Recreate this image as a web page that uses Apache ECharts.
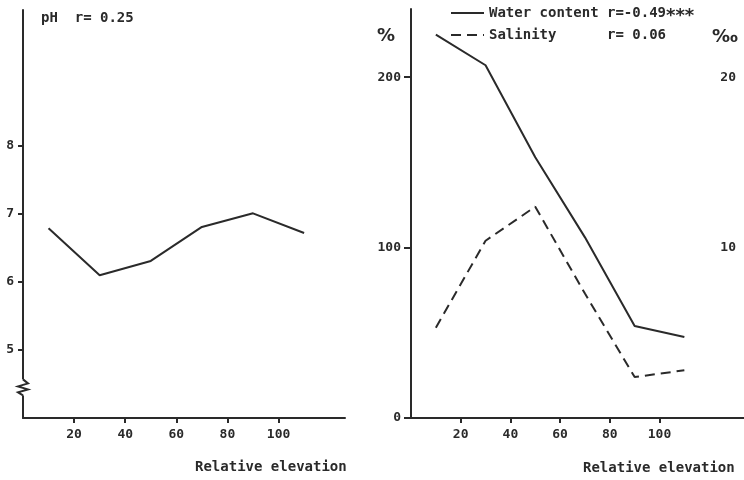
<!DOCTYPE html>
<html>
<head>
<meta charset="utf-8">
<script src="https://cdn.jsdelivr.net/npm/echarts@6/dist/echarts.min.js"></script>
<style>
html,body{margin:0;padding:0;background:#fff;}
#c{width:744px;height:480px;}
</style>
</head>
<body>
<div id="c"></div>
<script>
// ---- data ----
const elevation = [10, 30, 50, 70, 90, 110];
const pH = [6.79, 6.10, 6.31, 6.81, 7.01, 6.72];
const waterContent = [225, 207, 153, 106, 54, 47.5];   // %
const salinity = [5.3, 10.4, 12.4, 7.3, 2.4, 2.8];     // per mille
const xTicks = [20, 40, 60, 80, 100];
const pHTicks = [5, 6, 7, 8];
const pctTicks = [0, 100, 200];
const permilleTicks = [10, 20];

const INK = '#2a2a2a';
const FONT = '"DejaVu Sans Mono", monospace';
const SANS = '"DejaVu Sans", sans-serif';

const pair = (xs, ys) => xs.map((x, i) => [x, ys[i]]);

const chart = echarts.init(document.getElementById('c'), null, {renderer: 'canvas'});

const axisCommon = {
  axisLine: {show: true, lineStyle: {color: INK, width: 2}},
  axisTick: {show: true, length: 5, lineStyle: {color: INK, width: 2}},
  splitLine: {show: false},
  axisLabel: {color: INK, fontFamily: FONT, fontWeight: 'bold', fontSize: 13}
};

function xAxis(gridIndex, max) {
  return {
    type: 'value', gridIndex, min: 0, max,
    axisLine: axisCommon.axisLine,
    axisTick: Object.assign({}, axisCommon.axisTick, {customValues: xTicks}),
    axisLabel: Object.assign({}, axisCommon.axisLabel, {customValues: xTicks, margin: 10}),
    splitLine: {show: false}
  };
}

chart.setOption({
  animation: false,
  backgroundColor: '#fff',
  grid: [
    {left: 23, top: 10, width: 322, height: 408},
    {left: 411, top: 9, width: 341, height: 409}
  ],
  xAxis: [xAxis(0, 126), xAxis(1, 134)],
  yAxis: [
    {
      type: 'value', gridIndex: 0, min: 4, max: 10,
      axisLine: axisCommon.axisLine,
      axisTick: Object.assign({}, axisCommon.axisTick, {customValues: pHTicks}),
      axisLabel: Object.assign({}, axisCommon.axisLabel, {customValues: pHTicks, margin: 9}),
      splitLine: {show: false}
    },
    {
      type: 'value', gridIndex: 1, min: 0, max: 240,
      axisLine: axisCommon.axisLine,
      axisTick: Object.assign({}, axisCommon.axisTick, {customValues: pctTicks, length: 7}),
      axisLabel: Object.assign({}, axisCommon.axisLabel, {customValues: pctTicks, margin: 10}),
      splitLine: {show: false}
    },
    {
      type: 'value', gridIndex: 1, min: 0, max: 24, position: 'right',
      axisLine: {show: false},
      axisTick: {show: false},
      axisLabel: Object.assign({}, axisCommon.axisLabel, {customValues: permilleTicks, inside: true, margin: 8}),
      splitLine: {show: false}
    }
  ],
  legend: {
    orient: 'vertical',
    left: 450, top: 6, padding: 0,
    itemWidth: 33, itemHeight: 14, itemGap: 3,
    data: ['Water content', 'Salinity'],
    itemStyle: {opacity: 0},
    textStyle: {
      color: INK, fontFamily: FONT, fontWeight: 'bold', fontSize: 14,
      rich: {
        s: {color: INK, fontFamily: SANS, fontWeight: 'bold', fontSize: 18, padding: [6, 0, 0, 0]}
      }
    },
    formatter: function (name) {
      if (name === 'Water content') return 'Water content r=-0.49{s|***}';
      return 'Salinity      r= 0.06';
    }
  },
  series: [
    {
      name: 'pH', type: 'line', xAxisIndex: 0, yAxisIndex: 0,
      data: pair(elevation, pH), symbol: 'none',
      lineStyle: {color: INK, width: 2}
    },
    {
      name: 'Water content', type: 'line', xAxisIndex: 1, yAxisIndex: 1,
      data: pair(elevation, waterContent), symbol: 'none',
      itemStyle: {color: INK},
      lineStyle: {color: INK, width: 2}
    },
    {
      name: 'Salinity', type: 'line', xAxisIndex: 1, yAxisIndex: 2,
      data: pair(elevation, salinity), symbol: 'none',
      itemStyle: {color: INK},
      lineStyle: {color: INK, width: 2, type: [10, 6]}
    }
  ]
});

// axis break marker on the pH axis, positioned through the axis scale
const bp = chart.convertToPixel({gridIndex: 0}, [0, 4.45]);
const bx = bp[0], by = bp[1];
const txt = (x, y, s, size, align, fam) => ({
  type: 'text', x, y,
  style: {text: s, fill: INK, font: 'bold ' + size + 'px ' + (fam || FONT), textAlign: align || 'left', textVerticalAlign: 'middle'}
});
chart.setOption({
  graphic: [
    {type: 'rect', shape: {x: bx - 4, y: by - 8, width: 8, height: 16}, style: {fill: '#fff'}, z: 100},
    {type: 'polyline', z: 101,
      shape: {points: [[bx, by - 8], [bx + 5, by - 4], [bx - 5, by - 1], [bx + 5, by + 2], [bx - 5, by + 5], [bx, by + 8]]},
      style: {stroke: INK, lineWidth: 2, fill: null}},
    txt(41, 18, 'pH  r= 0.25', 14),
    txt(195, 467, 'Relative elevation', 14),
    txt(583, 468, 'Relative elevation', 14),
    txt(377, 36, '%', 18, 'left', SANS),
    txt(712, 37, '‰', 18, 'left', SANS)
  ]
});
</script>
</body>
</html>
